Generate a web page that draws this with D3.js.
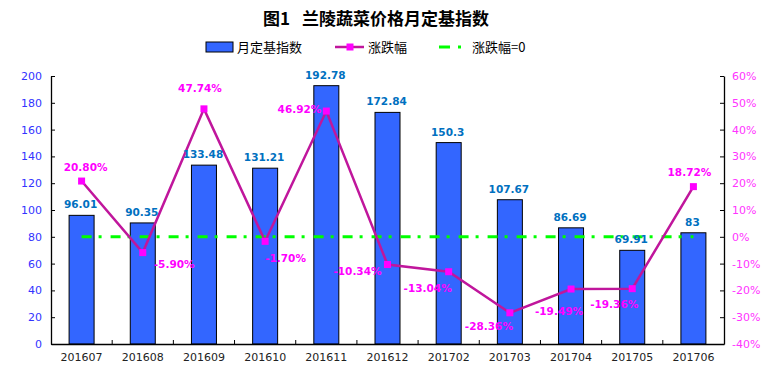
<html>
<head>
<meta charset="utf-8">
<script src="https://d3js.org/d3.v7.min.js"></script>
<style>
body { margin: 0; background: #fff; }
svg { display: block; }
text { font-family: "DejaVu Sans", Verdana, sans-serif; }
.cjk { font-family: "Noto Sans CJK SC", sans-serif; }
</style>
</head>
<body>
<svg width="771" height="374"></svg>
<script>
var months = ["201607","201608","201609","201610","201611","201612","201702","201703","201704","201705","201706"];
var indexVals = [96.01, 90.35, 133.48, 131.21, 192.78, 172.84, 150.3, 107.67, 86.69, 69.91, 83];
var changeVals = [20.80, -5.90, 47.74, -1.70, 46.92, -10.34, -13.04, -28.36, -19.49, -19.36, 18.72];
var leftTicks = [0, 20, 40, 60, 80, 100, 120, 140, 160, 180, 200];
var rightTicks = [-40, -30, -20, -10, 0, 10, 20, 30, 40, 50, 60];

var svg = d3.select("svg");

var x = d3.scaleBand().domain(months).range([51, 724]);
var yL = d3.scaleLinear().domain([0, 200]).range([344, 76]);
var yR = d3.scaleLinear().domain([-40, 60]).range([344, 76]);

// title, the wide gap comes from a dx on the second part
var title = svg.append("text").attr("class", "cjk")
  .attr("x", 376).attr("y", 25)
  .attr("text-anchor", "middle")
  .style("font-size", "17px").style("font-weight", "bold");
title.append("tspan").text("图1");
title.append("tspan").attr("dx", 12).text("兰陵蔬菜价格月定基指数");

// bars
svg.selectAll("rect.bar").data(indexVals).enter().append("rect")
  .attr("class", "bar")
  .attr("x", function (d, i) { return x(months[i]) + x.bandwidth() / 2 - 12.5; })
  .attr("width", 25)
  .attr("y", function (d) { return yL(d); })
  .attr("height", function (d) { return yL(0) - yL(d); })
  .attr("fill", "#3366FF")
  .attr("stroke", "#000").attr("stroke-width", 1);

// zero line
svg.append("line")
  .attr("x1", x(months[0]) + x.bandwidth() / 2)
  .attr("x2", x(months[months.length - 1]) + x.bandwidth() / 2)
  .attr("y1", yR(0)).attr("y2", yR(0))
  .attr("stroke", "#00FF00").attr("stroke-width", 3)
  .attr("stroke-dasharray", "10,7,3,9");

// change line
var line = d3.line()
  .x(function (d, i) { return x(months[i]) + x.bandwidth() / 2; })
  .y(function (d) { return yR(d); });
svg.append("path").datum(changeVals)
  .attr("d", line)
  .attr("fill", "none")
  .attr("stroke", "#C0169C").attr("stroke-width", 2.5);

svg.selectAll("rect.mk").data(changeVals).enter().append("rect")
  .attr("class", "mk")
  .attr("x", function (d, i) { return x(months[i]) + x.bandwidth() / 2 - 3.5; })
  .attr("y", function (d) { return yR(d) - 3.5; })
  .attr("width", 7).attr("height", 7)
  .attr("fill", "#FF00FF");

// axes
var axL = svg.append("g").attr("transform", "translate(51,0)")
  .call(d3.axisLeft(yL).tickValues(leftTicks).tickSizeInner(-4).tickSizeOuter(0).tickPadding(9));
var axR = svg.append("g").attr("transform", "translate(724,0)")
  .call(d3.axisRight(yR).tickValues(rightTicks).tickSizeInner(-4).tickSizeOuter(0).tickPadding(8)
    .tickFormat(function (d) { return d + "%"; }));
var axB = svg.append("g").attr("transform", "translate(0,344)")
  .call(d3.axisBottom(x).tickSize(0).tickPadding(9));

// category boundary ticks
axB.selectAll("line.bt").data(months.slice(1)).enter().append("line")
  .attr("class", "bt")
  .attr("x1", function (d) { return x(d); }).attr("x2", function (d) { return x(d); })
  .attr("y1", 0).attr("y2", -4)
  .attr("stroke", "#000");

[axL, axR, axB].forEach(function (g) {
  g.select(".domain").attr("stroke", "#000").attr("stroke-width", 1.3);
  g.selectAll(".tick line").attr("stroke", "#000");
  g.selectAll("text").style("font-size", "11px").style("font-family", "DejaVu Sans, Verdana, sans-serif");
});
axL.selectAll("text").attr("fill", "#3333FF");
axR.selectAll("text").attr("fill", "#FF33FF");
axB.selectAll("text").attr("fill", "#222");

// bar value labels
svg.selectAll("text.bv").data(indexVals).enter().append("text")
  .attr("class", "bv")
  .attr("x", function (d, i) { return x(months[i]) + x.bandwidth() / 2 - 1; })
  .attr("y", function (d) { return yL(d) - 7; })
  .attr("text-anchor", "middle")
  .style("font-size", "10.5px").style("font-weight", "bold")
  .attr("fill", "#0070C0")
  .text(function (d) { return d; });

// percent labels, placement per point
var place = [
  ["middle", 4, -10], ["start", 11, 15], ["middle", -4, -17], ["start", 0, 21],
  ["end", -5, 2], ["end", -6, 10], ["end", 3, 20], ["middle", -21, 17],
  ["end", 12, 26], ["end", 6, 19], ["middle", -4, -11]
];
svg.selectAll("text.pv").data(changeVals).enter().append("text")
  .attr("class", "pv")
  .attr("x", function (d, i) { return x(months[i]) + x.bandwidth() / 2 + place[i][1]; })
  .attr("y", function (d, i) { return yR(d) + place[i][2]; })
  .attr("text-anchor", function (d, i) { return place[i][0]; })
  .style("font-size", "10.5px").style("font-weight", "bold")
  .attr("fill", "#FF00FF")
  .text(function (d) { return d.toFixed(2) + "%"; });

// legend
var lg = svg.append("g");
lg.append("rect").attr("x", 206).attr("y", 42).attr("width", 27).attr("height", 10)
  .attr("fill", "#3366FF").attr("stroke", "#000");
lg.append("text").attr("class", "cjk").attr("x", 237).attr("y", 52)
  .style("font-size", "13px").text("月定基指数");
lg.append("line").attr("x1", 335).attr("x2", 364).attr("y1", 47).attr("y2", 47)
  .attr("stroke", "#C0169C").attr("stroke-width", 2.5);
lg.append("rect").attr("x", 346.5).attr("y", 43.5).attr("width", 7).attr("height", 7)
  .attr("fill", "#FF00FF");
lg.append("text").attr("class", "cjk").attr("x", 368).attr("y", 52)
  .style("font-size", "13px").text("涨跌幅");
lg.append("line").attr("x1", 439).attr("x2", 462).attr("y1", 47).attr("y2", 47)
  .attr("stroke", "#00FF00").attr("stroke-width", 3)
  .attr("stroke-dasharray", "11,8,3,20");
lg.append("text").attr("class", "cjk").attr("x", 472).attr("y", 52)
  .style("font-size", "13px").text("涨跌幅=0");
</script>
</body>
</html>
